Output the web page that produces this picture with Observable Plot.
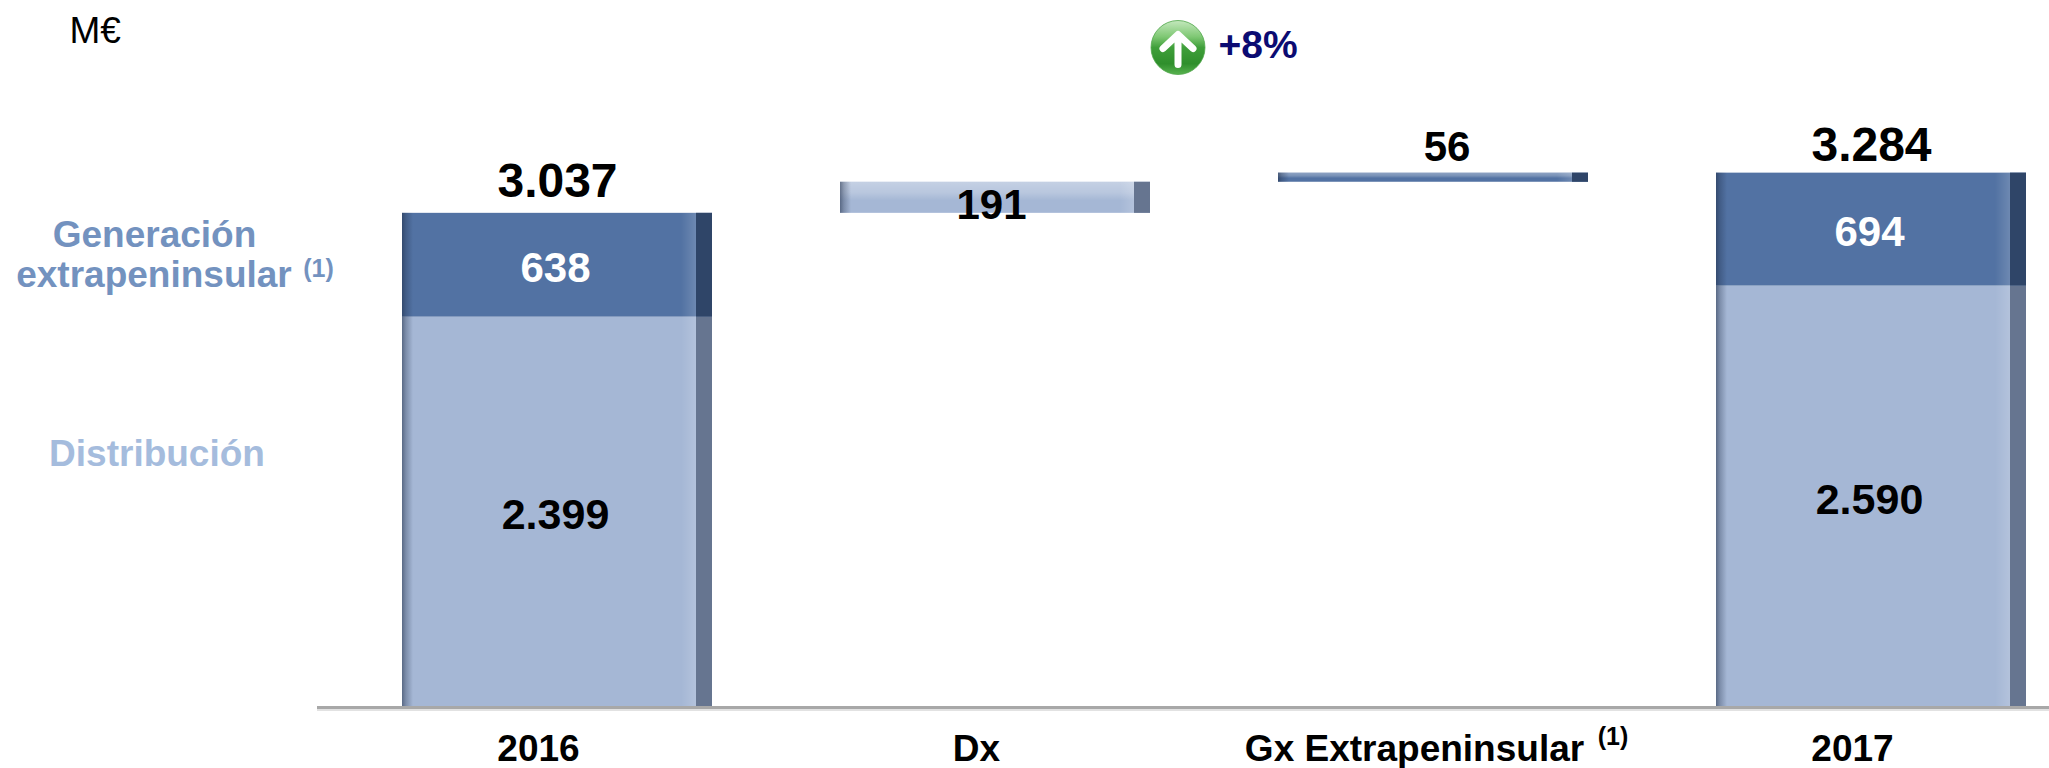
<!DOCTYPE html>
<html lang="es">
<head>
<meta charset="utf-8">
<style>html,body{margin:0;padding:0;background:#fff}svg{display:block}</style>
<script src="https://cdn.jsdelivr.net/npm/d3@7"></script>
<script src="https://cdn.jsdelivr.net/npm/@observablehq/plot@0.6"></script>
</head>
<body>
<script>
const categories = ["2016", "Dx", "Gx Extrapeninsular", "2017"];
const base = [0, 3037, 3228, 0];
const distribucion = [2399, 191, 0, 2590];
const generacion = [638, 0, 56, 694];
const totals = ["3.037", null, null, "3.284"];
const totalValues = [3037, null, null, 3284];
const distribucionLabels = ["2.399", "191", null, "2.590"];
const generacionLabels = ["638", null, "56", "694"];
const seriesNames = ["Distribución", "Generación"];
const seriesFills = ["#a5b7d5", "#5272a3"];

const rows = categories.flatMap((c, i) => {
  const out = [];
  if (distribucion[i]) out.push({cat: c, series: seriesNames[0], y1: base[i], y2: base[i] + distribucion[i], floating: base[i] > 0});
  if (generacion[i]) out.push({cat: c, series: seriesNames[1], y1: base[i] + distribucion[i], y2: base[i] + distribucion[i] + generacion[i], floating: base[i] > 0});
  return out;
});
const lightRows = rows.filter(d => d.series === seriesNames[0]);
const darkRows = rows.filter(d => d.series === seriesNames[1]);

const lightLabels = categories.map((c, i) => ({cat: c, text: distribucionLabels[i], y: base[i] + distribucion[i] / 2, floating: base[i] > 0})).filter(d => d.text);
const darkLabels = categories.map((c, i) => ({cat: c, text: generacionLabels[i], y: base[i] + distribucion[i] + generacion[i] / 2, floating: base[i] > 0})).filter(d => d.text);
const totalLabels = categories.map((c, i) => ({cat: c, text: totals[i], y: totalValues[i]})).filter(d => d.text);

const font = "'Liberation Sans', Arial, sans-serif";
const W = 310; // bar width in px, used for the insets of the bevels
const LEFT = 402;

function defs() {
  const d = d3.create("svg:defs");
  const grad = (id, attrs, stops) => {
    const g = d.append("linearGradient").attr("id", id);
    Object.entries(attrs).forEach(([k, v]) => g.attr(k, v));
    stops.forEach(([o, c, a]) => g.append("stop").attr("offset", o).attr("stop-color", c).attr("stop-opacity", a));
  };
  grad("leftShade", {x1: 0, x2: 1, y1: 0, y2: 0}, [[0, "#1c2a44", 0.55], [0.35, "#1c2a44", 0.3], [1, "#1c2a44", 0]]);
  grad("rightGlow", {x1: 0, x2: 1, y1: 0, y2: 0}, [[0, "#ffffff", 0], [1, "#ffffff", 0.16]]);
  grad("topGlow", {x1: 0, x2: 0, y1: 0, y2: 1}, [[0, "#ffffff", 0.35], [0.35, "#ffffff", 0.22], [0.6, "#ffffff", 0], [1, "#ffffff", 0]]);
  const ig = d.append("linearGradient").attr("id", "icon").attr("x1", 0).attr("x2", 0).attr("y1", 0).attr("y2", 1);
  [[0, "#c4e8bd"], [0.3, "#7fc874"], [0.5, "#3f9f3a"], [0.8, "#2f8f2c"], [1, "#58b24f"]].forEach(([o, c]) => ig.append("stop").attr("offset", o).attr("stop-color", c));
  return d.node();
}

function upIcon() {
  const g = d3.create("svg:g").attr("transform", "translate(1178,47.5)");
  g.append("circle").attr("r", 27).attr("fill", "url(#icon)").attr("stroke", "#4ea649").attr("stroke-width", 0.8);
  g.append("path").attr("d", "M0,17 V-12 M-15,1 L0,-13 L15,1").attr("fill", "none").attr("stroke", "#fff")
    .attr("stroke-width", 7).attr("stroke-linecap", "round").attr("stroke-linejoin", "round");
  return g.node();
}

const note = (text, dx, dy, o = {}) => Plot.text([text], {
  text: d => d, frameAnchor: "top-left", dx: dx - LEFT, dy, textAnchor: "middle", lineAnchor: "middle",
  fontWeight: "bold", fontSize: 37, ...o
});

const chart = Plot.plot({
  width: 2049,
  height: 768,
  marginTop: 0,
  marginLeft: LEFT,
  marginRight: 22,
  marginBottom: 61,
  style: {fontFamily: font, background: "#fff", color: "#000"},
  x: {domain: categories, paddingInner: 0.2917, paddingOuter: 0, label: null},
  y: {domain: [0, 4345], axis: null},
  color: {domain: seriesNames, range: seriesFills},
  marks: [
    defs,
    Plot.axisX({anchor: "bottom", tickSize: 0, tickPadding: 27, fontSize: 37, fontWeight: "bold", dx: -19, label: null, fill: "#000"}),
    Plot.rectY(rows, {x: "cat", y1: "y1", y2: "y2", fill: "series"}),
    Plot.rectY(rows.filter(d => d.floating), {x: "cat", y1: "y1", y2: "y2", fill: "url(#topGlow)"}),
    Plot.rectY(rows, {x: "cat", y1: "y1", y2: "y2", fill: "url(#leftShade)", insetRight: W - 11}),
    Plot.rectY(rows, {x: "cat", y1: "y1", y2: "y2", fill: "url(#rightGlow)", insetLeft: W - 31, insetRight: 16}),
    Plot.rectY(lightRows, {x: "cat", y1: "y1", y2: "y2", fill: "#667590", insetLeft: W - 16}),
    Plot.rectY(darkRows, {x: "cat", y1: "y1", y2: "y2", fill: "#2f4568", insetLeft: W - 16}),
    Plot.ruleY([0], {stroke: "#e2e2e2", strokeWidth: 2, dy: 2.5, insetLeft: -85, insetRight: -22}),
    Plot.ruleY([0], {stroke: "#a8a8a8", strokeWidth: 3, insetLeft: -85, insetRight: -22}),
    Plot.text(totalLabels.filter(d => d.y < 3200), {x: "cat", y: "y", text: "text", dy: -32, fontSize: 48, fontWeight: "bold", fill: "#000"}),
    Plot.text(totalLabels.filter(d => d.y > 3200), {x: "cat", y: "y", text: "text", dy: -28, fontSize: 48, fontWeight: "bold", fill: "#000"}),
    Plot.text(lightLabels.filter(d => !d.floating), {x: "cat", y: "y", text: "text", dy: 3, dx: -2, fontSize: 43, fontWeight: "bold", fill: "#000"}),
    Plot.text(lightLabels.filter(d => d.floating), {x: "cat", y: "y", text: "text", dy: 7.5, dx: -4, fontSize: 42, fontWeight: "bold", fill: "#000"}),
    Plot.text(darkLabels.filter(d => !d.floating), {x: "cat", y: "y", text: "text", dy: 3, dx: -2, fontSize: 42, fontWeight: "bold", fill: "#fff"}),
    Plot.text(darkLabels.filter(d => d.floating), {x: "cat", y: "y", text: "text", dy: -30, dx: 13.5, fontSize: 42, fontWeight: "bold", fill: "#000"}),
    Plot.text(["(1)"], {x: () => categories[2], y: () => 0, text: d => d, dx: 179.5, dy: 29, fontSize: 25, fontWeight: "bold", fill: "#000"}),
    note("Generación", 154, 235, {fill: "#7392bf"}),
    note("extrapeninsular", 153.5, 275, {fill: "#7392bf"}),
    note("(1)", 318, 268, {fill: "#7392bf", fontSize: 25}),
    note("Distribución", 156.5, 454, {fill: "#a5bcdd"}),
    note("M€", 69, 31, {textAnchor: "start", fontWeight: "normal", fill: "#000"}),
    note("+8%", 1218, 45, {textAnchor: "start", fontSize: 39, fill: "#0b0b72"}),
    upIcon
  ]
});
document.body.append(chart);
</script>
</body>
</html>
